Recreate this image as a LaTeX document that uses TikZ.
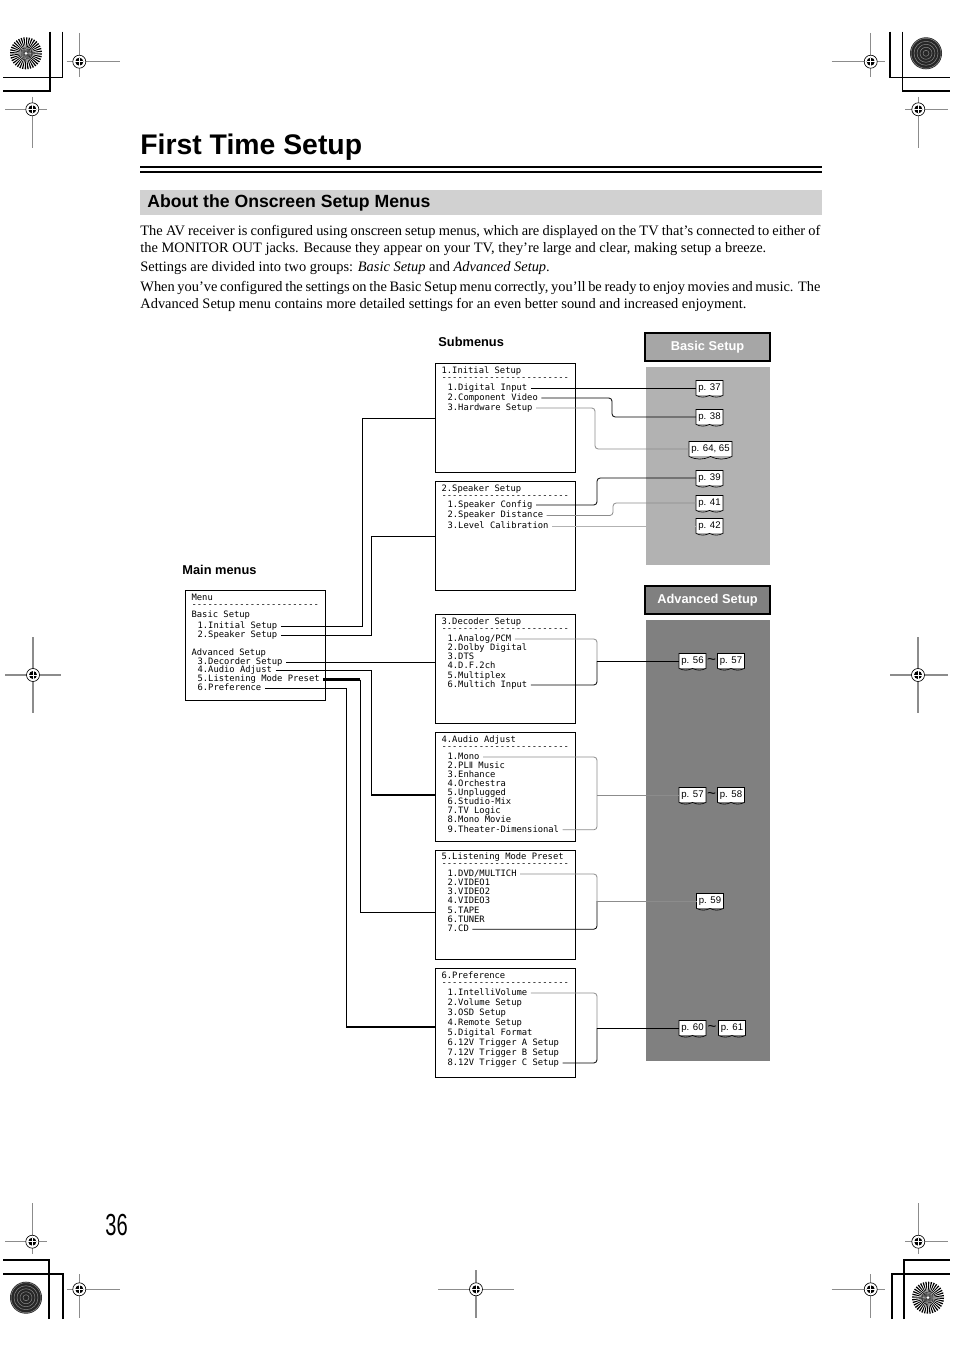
\documentclass[tikz,border=0pt]{standalone}
\usepackage{fontspec}
\setmainfont{Liberation Serif}
\setsansfont{Liberation Sans}
\setmonofont{DejaVu Sans Mono}
\newfontfamily\romanfont{DejaVu Sans}
\usepackage{graphicx}

\newcommand\pxl{0.624pt}
\newcommand\dashrow{\foreach \k in {1,...,24}{-\kern0pt}}
\newcommand\plii{{\romanfont Ⅱ}}

% register marks and wheels of the print sheet
\newcommand\regmark[6]{%
  \draw[black!45, line width=0.8pt] (#1-#3,#2) -- (#1+#4,#2) (#1,#2-#5) -- (#1,#2+#6);
  \filldraw[fill=white, line width=0.4pt] (#1,#2) circle (6.5);
  \fill (#1,#2) circle (4);
  \draw[white, line width=0.6pt] (#1-4,#2) -- (#1+4,#2) (#1,#2-4) -- (#1,#2+4);
}
\newcommand\starwheel[2]{%
  \fill[white] (#1,#2) circle (16);
  \foreach \a in {0,10,...,350}
    \fill (#1,#2) -- ++(\a:16) arc[start angle=\a, delta angle=5, radius=16] -- cycle;
  \fill[white] (#1,#2) circle (1.5);
}
\newcommand\darkwheel[2]{%
  \fill[black!85] (#1,#2) circle (16);
  \foreach \r in {3,6,...,15}
    \draw[black!45, line width=0.3pt] (#1,#2) circle (\r);
}

\begin{document}
\begin{tikzpicture}[x=0.624pt, y=-0.624pt, line width=0.5pt,
  every node/.style={inner sep=0pt},
  body/.style={anchor=base west, font=\fontsize{9}{10.5}\selectfont},
  item/.style={anchor=west, inner xsep=2pt, text height=4pt, text depth=1.2pt, font=\ttfamily\fontsize{5.5}{6}\selectfont},
  menubox/.style={draw, line width=0.6pt, anchor=north west, minimum width=140*\pxl, minimum height=109*\pxl},
  head/.style={draw, line width=0.8pt, minimum width=125*\pxl, minimum height=28*\pxl, text=white, font=\sffamily\bfseries\fontsize{8}{9}\selectfont},
  menulabel/.style={anchor=base west, font=\sffamily\bfseries\fontsize{8}{9}\selectfont},
  pg/.style={fill=white, inner xsep=1.2pt, inner ysep=1.5pt, text height=4.4pt, text depth=1.4pt, font=\sffamily\fontsize{6}{7}\selectfont},
  tilde/.style={font=\sffamily\fontsize{9.5}{10}\selectfont},
  link/.style={rounded corners=2pt},
  dim/.style={link, black!45},
  faint/.style={link, black!30},
  crop/.style={line width=0.9pt}]

  \fill[white] (0,0) rectangle (954,1351);
  \useasboundingbox (0,0) rectangle (954,1351);

  % heading
  \node[anchor=base west, font=\sffamily\bfseries\fontsize{17.7}{20}\selectfont] (title) at (140,155) {First Time Setup};
  \draw[line width=1.3pt] (140,167) -- (822,167);
  \draw[line width=0.8pt] (140,172) -- (822,172);
  \fill[black!18] (140,190) rectangle (822,215.5);
  \node[anchor=base west, font=\sffamily\bfseries\fontsize{11}{12}\selectfont] (sect) at (147,208) {About the Onscreen Setup Menus};

  \node[body] (t1) at (140,235.5) {\makebox[424.3pt][s]{The AV receiver is configured using onscreen setup menus, which are displayed on the TV that’s connected to either of}};
  \node[body] (t2) at (140,252.5) {the MONITOR OUT jacks. Because they appear on your TV, they’re large and clear, making setup a breeze.};
  \node[body] (t3) at (140,271.5) {Settings are divided into two groups: \textit{Basic Setup} and \textit{Advanced Setup}.};
  \node[body] (t4) at (140,291.5) {\makebox[424.3pt][s]{When you’ve configured the settings on the Basic Setup menu correctly, you’ll be ready to enjoy movies and music. The}};
  \node[body] (t5) at (140,308.5) {Advanced Setup menu contains more detailed settings for an even better sound and increased enjoyment.};

  % setup panels
  \node[head, fill=black!35] (basic) at (707.5,347) {Basic Setup};
  \fill[black!30] (646,367) rectangle (770,565);
  \node[head, fill=black!50] (adv) at (707.5,600) {Advanced Setup};
  \fill[black!50] (646,620) rectangle (770,1061);

  \node[menulabel] (subl) at (438,347) {Submenus};
  \node[menulabel] (mainl) at (182,574) {Main menus};

  % main menu
  \node[menubox, minimum height=110*\pxl] (m0) at (185,590) {};
  \node[item] (mt) at (188,598) {Menu};
  \node[item] (md) at (188,605) {\dashrow};
  \node[item] (mb) at (188,615) {Basic Setup};
  \foreach \t/\y [count=\i] in {1.Initial Setup/626, 2.Speaker Setup/635}
    \node[item] (m\i) at (194,\y) {\t};
  \node[item] (ma) at (188,653) {Advanced Setup};
  \foreach \t/\y [count=\i from 3] in {3.Decorder Setup/662, 4.Audio Adjust/670.5, 5.Listening Mode Preset/679.5, 6.Preference/688}
    \node[item] (m\i) at (194,\y) {\t};

  % submenus
  \foreach \y [count=\i] in {363,481,614,732,850,968}
    \node[menubox] (s\i) at (435,\y) {};
  \foreach \t/\y [count=\i] in {1.Initial Setup/371, 2.Speaker Setup/489, 3.Decoder Setup/622, 4.Audio Adjust/740, 5.Listening Mode Preset/857, 6.Preference/976} {
    \node[item] (h\i) at (438,\y) {\t};
    \node[item] (d\i) at (438,\y+7) {\dashrow};
  }
  \foreach \t [count=\i] in {1.Digital Input, 2.Component Video, 3.Hardware Setup}
    \node[item] (b1-\i) at (444,378+10*\i) {\t};
  \foreach \t [count=\i] in {1.Speaker Config, 2.Speaker Distance, 3.Level Calibration}
    \node[item] (b2-\i) at (444,494.5+10.5*\i) {\t};
  \foreach \t [count=\i] in {1.Analog/PCM, 2.Dolby Digital, 3.DTS, 4.D.F.2ch, 5.Multiplex, 6.Multich Input}
    \node[item] (b3-\i) at (444,629.8+9.2*\i) {\t};
  \foreach \t [count=\i] in {1.Mono, 2.PL\plii{} Music, 3.Enhance, 4.Orchestra, 5.Unplugged, 6.Studio-Mix, 7.TV Logic, 8.Mono Movie, 9.Theater-Dimensional}
    \node[item] (b4-\i) at (444,747.9+9.1*\i) {\t};
  \foreach \t [count=\i] in {1.DVD/MULTICH, 2.VIDEO1, 3.VIDEO2, 4.VIDEO3, 5.TAPE, 6.TUNER, 7.CD}
    \node[item] (b5-\i) at (444,864.8+9.2*\i) {\t};
  \foreach \t [count=\i] in {1.IntelliVolume, 2.Volume Setup, 3.OSD Setup, 4.Remote Setup, 5.Digital Format, 6.12V Trigger A Setup, 7.12V Trigger B Setup, 8.12V Trigger C Setup}
    \node[item] (b6-\i) at (444,983+10*\i) {\t};

  % main menu to submenus
  \coordinate (j1) at (362,0);
  \coordinate (j2) at (371,0);
  \coordinate (j4) at (371,795);
  \coordinate (j5) at (360,912);
  \coordinate (j6) at (346,1027);
  \draw (m1.east) -| (j1 |- s1.west) -- (s1.west);
  \draw (m2.east) -| (j2 |- s2.west) -- (s2.west);
  \draw (m3.east) -- (m3.east -| s3.west);
  \draw (m4.east) -| (j4);
  \draw[line width=1.3pt] (j4) -- (j4 -| s4.west);
  \draw[line width=1.3pt] (m5.east) -- (m5.east -| j5);
  \draw (m5.east -| j5) -- (j5) -- (j5 -| s5.west);
  \draw (m6.east) -| (j6);
  \draw[line width=1.3pt] (j6) -- (j6 -| s6.west);

  % page references
  \node[pg] (p37) at (709.5,388) {p. 37};
  \node[pg] (p38) at (709.5,417) {p. 38};
  \node[pg] (p6465) at (710.5,449) {p. 64, 65};
  \node[pg] (p39) at (709.5,478) {p. 39};
  \node[pg] (p41) at (709.5,503) {p. 41};
  \node[pg] (p42) at (709.5,526) {p. 42};
  \node[pg] (p56) at (692.5,661) {p. 56};
  \node[tilde] (w1) at (711.5,661) {\textasciitilde};
  \node[pg] (p57) at (731,661) {p. 57};
  \node[pg] (p57b) at (692.5,795) {p. 57};
  \node[tilde] (w2) at (711.5,795) {\textasciitilde};
  \node[pg] (p58) at (731,795) {p. 58};
  \node[pg] (p59) at (710,901) {p. 59};
  \node[pg] (p60) at (692.5,1028) {p. 60};
  \node[tilde] (w3) at (712,1028) {\textasciitilde};
  \node[pg] (p61) at (732,1028) {p. 61};
  \foreach \n in {p37,p38,p6465,p39,p41,p42,p56,p57,p57b,p58,p59,p60,p61}
    \draw[line width=0.4pt] (\n.south west) -- (\n.north west) -- (\n.north east) -- (\n.south east)
      to[bend left=25] (\n.south) to[bend left=25] (\n.south west);

  % submenus to page references
  \coordinate (c12) at (612,0);
  \coordinate (c13) at (595,0);
  \coordinate (c21) at (597,0);
  \coordinate (c22) at (613,0);
  \draw[link] (b1-1.east) -- (b1-1.east -| p37.west);
  \draw[link] (b1-2.east) -- (b1-2.east -| c12) |- (p38.west);
  \draw[dim] (b1-3.east) -- (b1-3.east -| c13) |- (p6465.west);
  \draw[link] (b2-1.east) -- (b2-1.east -| c21) |- (p39.west);
  \draw[dim] (b2-2.east) -- (b2-2.east -| c22) |- (p41.west);
  \draw[faint] (b2-3.east) -- (b2-3.east -| p42.west);

  \coordinate (k3) at (597,661);
  \coordinate (k4) at (597,795);
  \coordinate (k5) at (597,901);
  \coordinate (k6) at (597,1028);
  \draw[dim] (b3-1.east) -| (k3);
  \draw[link] (k3) |- (b3-6.east);
  \draw[link] (k3) -- (k3 -| p56.west);
  \draw[dim] (b4-1.east) -| (k4) |- (b4-9.east);
  \draw[dim] (k4) -- (k4 -| p57b.west);
  \draw[dim] (b5-1.east) -| (k5);
  \draw[link] (k5) |- (b5-7.east);
  \draw[dim] (k5) -- (k5 -| p59.west);
  \draw[dim] (b6-1.east) -| (k6);
  \draw[link] (k6) |- (b6-8.east);
  \draw[link] (k6) -- (k6 -| p60.west);

  \node[anchor=base west, font=\sffamily\fontsize{19}{20}\selectfont] (pnum) at (105,1235) {\scalebox{0.66}[1]{36}};

  % sheet marks
  \draw[crop] (50,31.7) |- (3.3,91);
  \draw[crop] (62.3,31.7) |- (3.3,77.3);
  \draw[crop] (890,31.7) |- (950,77.3);
  \draw[crop] (902.7,31.7) |- (950,91);
  \draw[crop] (49,1319) |- (3.3,1260);
  \draw[crop] (63,1319) |- (3.3,1274);
  \draw[crop] (904,1319) |- (950,1260);
  \draw[crop] (892,1319) |- (950,1274);
  \starwheel{26}{53.3}
  \darkwheel{926}{53.3}
  \darkwheel{26}{1297.7}
  \starwheel{928}{1297.7}
  \regmark{79.3}{61.7}{12.6}{40.7}{28.7}{15.3}
  \regmark{32.3}{109.3}{27}{14.4}{12.6}{38.7}
  \regmark{870.7}{61.7}{39}{14.3}{28.7}{15.3}
  \regmark{918.3}{109.3}{13.3}{30}{12.6}{38.7}
  \regmark{33}{675}{28}{28}{38}{38}
  \regmark{918}{675}{28}{30}{38}{38}
  \regmark{79.3}{1289.3}{12.6}{40.7}{15.3}{28.7}
  \regmark{32.3}{1241.7}{27}{14.4}{38.7}{12.6}
  \regmark{476}{1289.3}{38}{38}{19}{29}
  \regmark{870.7}{1289.3}{39}{14.3}{15.3}{28.7}
  \regmark{918.3}{1241.7}{13.3}{30}{38.7}{12.6}
\end{tikzpicture}
\end{document}
